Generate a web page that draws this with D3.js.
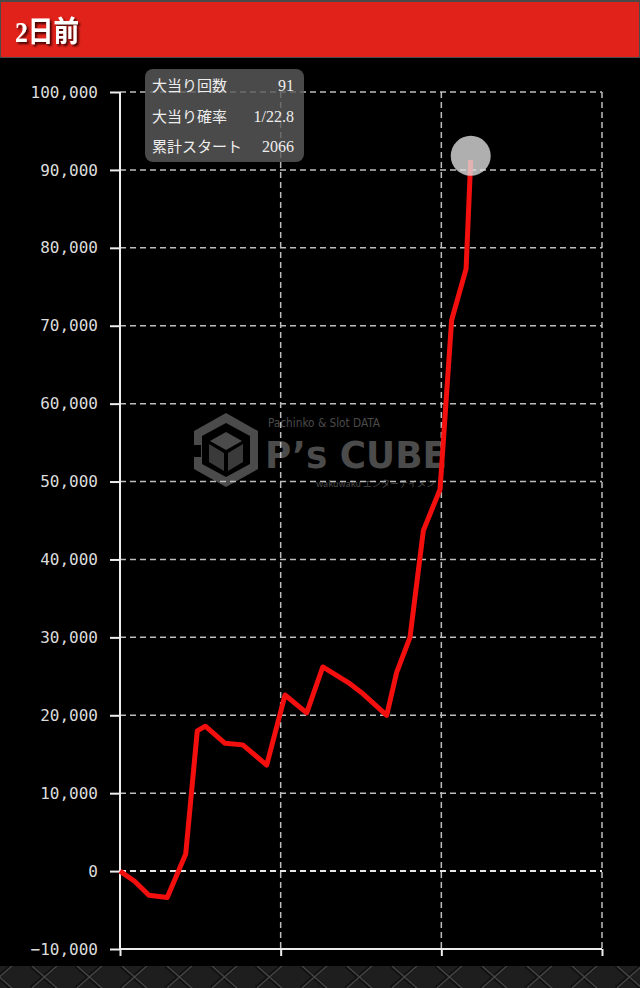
<!DOCTYPE html>
<html>
<head>
<meta charset="utf-8">
<script src="https://cdn.jsdelivr.net/npm/d3@7"></script>
<style>
  html, body { margin: 0; padding: 0; background: #000; }
  svg { display: block; }
</style>
</head>
<body>
<svg width="640" height="988"></svg>
<script>
// data
var title = "2日前";
var games = [0, 91, 180, 294, 409, 481, 531, 654, 764, 913, 1027, 1162, 1262, 1421, 1504, 1660, 1722, 1805, 1888, 1992, 2064, 2154, 2183];
var diffs = [0, -1300, -3100, -3400, 2200, 18000, 18600, 16400, 16200, 13600, 22600, 20300, 26200, 24200, 22900, 20000, 25500, 30000, 43700, 49000, 70700, 77300, 91300];
var yTicks = [-10000, 0, 10000, 20000, 30000, 40000, 50000, 60000, 70000, 80000, 90000, 100000];
var xTicks = [0, 1000, 2000, 3000];
var infoLabels = ["大当り回数", "大当り確率", "累計スタート"];
var infoValues = ["91", "1/22.8", "2066"];

var svg = d3.select("svg");

var width = 640;
var height = 988;

var margin = {
  "top": 92,
  "bottom": 949,
  "left": 120,
  "right": 602
};

// background pieces
var defs = svg.append("defs");
var pat = defs.append("pattern")
  .attr("id", "metal")
  .attr("width", 45)
  .attr("height", 22)
  .attr("patternUnits", "userSpaceOnUse")
  .attr("x", 21)
  .attr("y", 966);
pat.append("rect").attr("width", 45).attr("height", 22).attr("fill", "#1e1e1e");
pat.append("path")
  .attr("d", "M10,0 L35,22 M35,0 L10,22")
  .attr("stroke", "#111")
  .attr("stroke-width", 4);
pat.append("path")
  .attr("d", "M11,0 L36,22 M36,0 L11,22")
  .attr("stroke", "#444")
  .attr("stroke-width", 1.5);

var shadow = defs.append("filter").attr("id", "tshadow");
shadow.append("feDropShadow")
  .attr("dx", 2).attr("dy", 2)
  .attr("stdDeviation", 1)
  .attr("flood-color", "#300")
  .attr("flood-opacity", 0.9);

svg.append("rect")
  .attr("width", width)
  .attr("height", height)
  .attr("fill", "#000");

svg.append("rect")
  .attr("x", 0).attr("y", 966)
  .attr("width", width).attr("height", 22)
  .attr("fill", "url(#metal)");

// header bar
svg.append("rect")
  .attr("x", 0).attr("y", 0)
  .attr("width", width).attr("height", 58)
  .attr("fill", "#4a4a4a");
svg.append("rect")
  .attr("x", 1).attr("y", 2)
  .attr("width", width - 2).attr("height", 55)
  .attr("fill", "#e1221b");

svg.append("text")
  .attr("x", 15).attr("y", 42)
  .attr("font-family", "'Liberation Serif', 'Noto Sans CJK JP', serif")
  .attr("font-weight", "bold")
  .attr("font-size", 29)
  .attr("textLength", 64)
  .attr("lengthAdjust", "spacingAndGlyphs")
  .attr("fill", "#fff")
  .attr("filter", "url(#tshadow)")
  .text(title);

// scales
var x = d3.scaleLinear()
  .domain([0, 3000])
  .range([margin.left, margin.right]);

var y = d3.scaleLinear()
  .domain([-10000, 100000])
  .range([margin.bottom, margin.top]);

// watermark logo
var logo = svg.append("g").attr("fill", "#4b4b4b");
logo.append("path")
  .attr("d", "M226,413 L258,431 L258,469 L226,487 L194,469 L194,431 Z M226,423 L202,436 L202,464 L226,477 L250,464 L250,436 Z")
  .attr("fill-rule", "evenodd");
logo.append("path")
  .attr("d", "M226,432 L242,441 L226,450 L210,441 Z");
logo.append("path")
  .attr("d", "M209,444 L224,453 L224,471 L209,462 Z M228,453 L243,444 L243,462 L228,471 Z")
  .attr("fill", "#3a3a3a");
logo.append("rect")
  .attr("x", 191).attr("y", 445).attr("width", 10).attr("height", 12)
  .attr("fill", "#000");
logo.append("text")
  .attr("x", 268).attr("y", 427)
  .attr("font-family", "'DejaVu Sans Condensed', 'DejaVu Sans', sans-serif")
  .attr("font-size", 12)
  .attr("textLength", 112)
  .attr("lengthAdjust", "spacingAndGlyphs")
  .text("Pachinko & Slot DATA");
logo.append("text")
  .attr("x", 265).attr("y", 468)
  .attr("font-family", "'DejaVu Sans', sans-serif")
  .attr("font-weight", "bold")
  .attr("font-size", 38)
  .attr("textLength", 182)
  .attr("lengthAdjust", "spacingAndGlyphs")
  .text("P’s CUBE");
logo.append("text")
  .attr("x", 316).attr("y", 487)
  .attr("font-family", "'Noto Sans CJK JP', sans-serif")
  .attr("font-size", 9)
  .attr("textLength", 128)
  .attr("lengthAdjust", "spacingAndGlyphs")
  .text("wakuwaku エンターテイメント");

// grid lines
svg.append("g")
  .selectAll("line.hgrid")
  .data(yTicks.filter(function(d) { return d > -10000; }))
  .enter()
  .append("line")
  .attr("class", "hgrid")
  .attr("x1", x(0))
  .attr("x2", x(3000))
  .attr("y1", function(d) { return y(d); })
  .attr("y2", function(d) { return y(d); })
  .attr("stroke", function(d) { return d === 0 ? "#e6e6e6" : "#bdbdbd"; })
  .attr("stroke-width", function(d) { return d === 0 ? 2 : 1.5; })
  .attr("stroke-dasharray", "6,4");

svg.append("g")
  .selectAll("line.vgrid")
  .data(xTicks.slice(1))
  .enter()
  .append("line")
  .attr("class", "vgrid")
  .attr("x1", function(d) { return x(d); })
  .attr("x2", function(d) { return x(d); })
  .attr("y1", y(100000))
  .attr("y2", y(-10000))
  .attr("stroke", "#bdbdbd")
  .attr("stroke-width", 1.5)
  .attr("stroke-dasharray", "6,4");

// axes
var yAxis = d3.axisLeft(y)
  .tickValues(yTicks)
  .tickSize(10)
  .tickPadding(12)
  .tickFormat(d3.format(","));
var xAxis = d3.axisBottom(x)
  .tickValues(xTicks)
  .tickSize(7)
  .tickFormat("");

var gy = svg.append("g")
  .attr("transform", "translate(" + margin.left + ",0)")
  .call(yAxis);
var gx = svg.append("g")
  .attr("transform", "translate(0," + margin.bottom + ")")
  .call(xAxis);

[gy, gx].forEach(function(g) {
  g.select(".domain").attr("stroke", "#eee").attr("stroke-width", 2);
  g.selectAll(".tick line").attr("stroke", "#eee").attr("stroke-width", 2);
});
gx.select(".domain").attr("d", "M" + x(0) + ",0H" + x(3000));
gy.select(".domain").attr("d", "M0," + y(100000) + "V" + y(-10000));
gy.selectAll(".tick text")
  .attr("fill", "#dcdcdc")
  .attr("font-family", "'DejaVu Sans Mono', monospace")
  .attr("font-size", 16);

// the line
var pts = games.map(function(g, i) { return {g: g, v: diffs[i]}; });
var line = d3.line()
  .x(function(d) { return x(d.g); })
  .y(function(d) { return y(d.v); });

svg.append("path")
  .datum(pts)
  .attr("d", line)
  .attr("fill", "none")
  .attr("stroke", "#f40f0f")
  .attr("stroke-width", 5)
  .attr("stroke-linejoin", "round");

var last = pts[pts.length - 1];
svg.append("circle")
  .attr("cx", x(last.g))
  .attr("cy", y(last.v) - 4)
  .attr("r", 20)
  .attr("fill", "#e0e0e0")
  .attr("opacity", 0.78);

// info box
var info = svg.append("g");
info.append("rect")
  .attr("x", 145).attr("y", 69)
  .attr("width", 159).attr("height", 93)
  .attr("rx", 8)
  .attr("fill", "#5a5a5a")
  .attr("opacity", 0.82);
info.selectAll("text.lbl")
  .data(infoLabels)
  .enter()
  .append("text")
  .attr("class", "lbl")
  .attr("x", 152)
  .attr("y", function(d, i) { return 91 + i * 30.5; })
  .attr("font-family", "'Noto Sans CJK JP', sans-serif")
  .attr("font-size", 15)
  .attr("fill", "#eee")
  .text(function(d) { return d; });
info.selectAll("text.val")
  .data(infoValues)
  .enter()
  .append("text")
  .attr("class", "val")
  .attr("x", 294)
  .attr("y", function(d, i) { return 91 + i * 30.5; })
  .attr("text-anchor", "end")
  .attr("font-family", "'Liberation Serif', serif")
  .attr("font-size", 16)
  .attr("fill", "#eee")
  .text(function(d) { return d; });
</script>
</body>
</html>
